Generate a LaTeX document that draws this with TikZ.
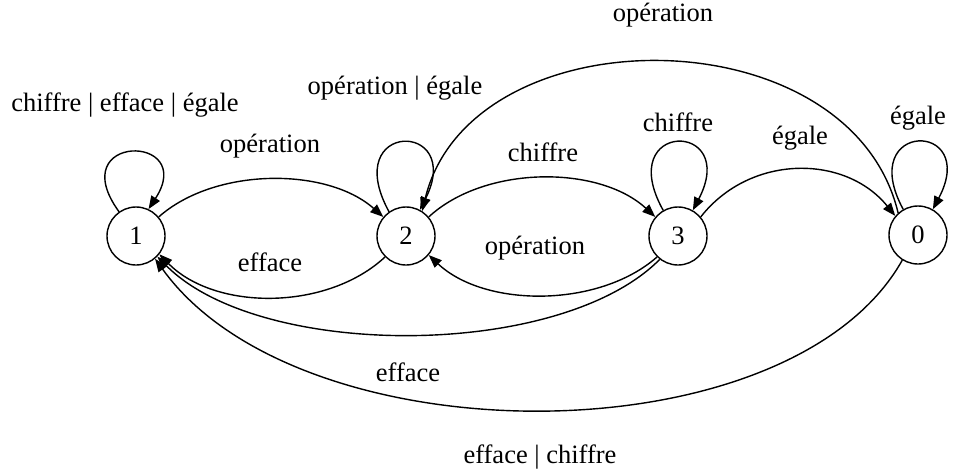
\documentclass[tikz,border=0pt]{standalone}
\usepackage{fontspec}
\setmainfont{Liberation Serif}
\usetikzlibrary{arrows.meta}
\begin{document}
\begin{tikzpicture}[x=1pt,y=-1pt,
  state/.style={draw,circle,line width=1.4pt,minimum size=58pt,inner sep=0pt,font=\fontsize{26.5}{30}\selectfont},
  lbl/.style={inner sep=0pt,font=\fontsize{26.5}{30}\selectfont},
  conn/.style={line width=1.4pt,-{Triangle[length=13pt,width=10pt]}}]
\useasboundingbox (0,0) rectangle (953,472);
\node[state] (n1) at (136,236) {1};
\node[state] (n2) at (406,236) {2};
\node[state] (n3) at (678,236) {3};
\node[state] (n0) at (918,235) {0};
% self loops
\draw[conn] (n1.125) .. controls (62,133) and (198,133) .. (n1.65);
\draw[conn] (n2.125) .. controls (339,120) and (465,120) .. (n2.62);
\draw[conn] (n3.120) .. controls (613,120) and (740,120) .. (n3.60);
\draw[conn] (n0.120) .. controls (855,120) and (980,120) .. (n0.60);
% forward / back
\draw[conn] (n1.40) .. controls (215,167) and (327,167) .. (n2.140);
\draw[conn] (n2.225) .. controls (327,311) and (215,311) .. (n1.322);
\draw[conn] (n2.40) .. controls (485,165) and (599,165) .. (n3.140);
\draw[conn] (n3.225) .. controls (599,308) and (485,308) .. (n2.320);
\draw[conn] (n3.40) .. controls (750,154) and (845,154) .. (n0.140);
\draw[conn] (n3.232) .. controls (560,360) and (260,360) .. (n1.316);
\draw[conn] (n0.238) .. controls (790,460) and (300,460) .. (n1.310);
\draw[conn] (n0.132) .. controls (850,12) and (470,12) .. (n2.57);
% labels
\node[lbl] (l1) at (125,105) {chiffre | efface | égale};
\node[lbl] (l2) at (270,146) {opération};
\node[lbl] (l3) at (270,262) {efface};
\node[lbl] (l4) at (395,88) {opération | égale};
\node[lbl] (l5) at (543,152) {chiffre};
\node[lbl] (l6) at (535,248) {opération};
\node[lbl] (l7) at (678,122) {chiffre};
\node[lbl] (l8) at (800,138) {égale};
\node[lbl] (l9) at (918,118) {égale};
\node[lbl] (l10) at (663,15) {opération};
\node[lbl] (l11) at (408,372) {efface};
\node[lbl] (l12) at (540,457) {efface | chiffre};
\end{tikzpicture}
\end{document}
